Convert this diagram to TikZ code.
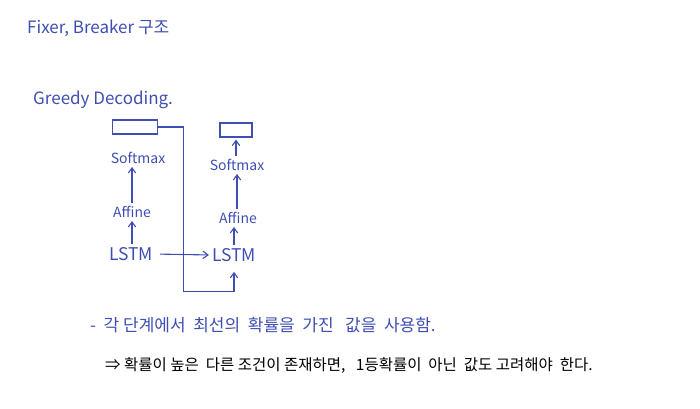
\documentclass[tikz,border=0pt]{standalone}
\usepackage{fontspec}
\setmainfont{Noto Sans CJK KR}
\usepackage{xcolor}
\usepackage{tikz}
\usetikzlibrary{arrows.meta,positioning,calc}
\definecolor{penblue}{RGB}{62,78,178}
\tikzset{
  >={Straight Barb[length=1.8mm,width=2.6mm]},
  note/.style={text=penblue, anchor=west, inner sep=0pt, font=\fontsize{17}{20}\selectfont},
  layer/.style={text=penblue, inner sep=1pt, font=\fontsize{14}{16}\selectfont},
  lstm/.style={layer, font=\fontsize{17.5}{20}\selectfont},
  probbox/.style={draw=penblue, line width=1.1pt, minimum width=45pt, minimum height=14pt, inner sep=0pt},
  flow/.style={->, draw=penblue, line width=1.1pt, shorten >=2pt, shorten <=2pt},
  wire/.style={draw=penblue, line width=1.1pt},
}

\begin{document}
\begin{tikzpicture}[x=1pt, y=-1pt]
  \useasboundingbox (0,0) rectangle (700,408);

  \node[note] (title) at (27,28) {Fixer, Breaker 구조};
  \node[note] (greedy) at (33,100) {Greedy Decoding.};

  % first step
  \node[lstm] (lstm1) at (131,254) {LSTM};
  \node[layer] (aff1) at (132,212) {Affine};
  \node[layer] (soft1) at (138,158) {Softmax};
  \node[probbox] (prob1) at (135,127) {};

  % second step
  \node[lstm] (lstm2) at (234,255) {LSTM};
  \node[layer] (aff2) at (238,218) {Affine};
  \node[layer] (soft2) at (237,165) {Softmax};
  \node[probbox, minimum width=32pt] (prob2) at (236,130) {};

  \draw[flow] (lstm1.north -| aff1) -- (aff1.south);
  \draw[flow] (aff1.north) -- (aff1.north |- soft1.south);
  \draw[flow] (lstm2.north) -- (lstm2.north |- aff2.south);
  \draw[flow] (aff2.north -| soft2) -- (soft2.south);
  \draw[flow] (soft2.north -| prob2) -- (prob2.south);

  \draw[flow, shorten <=6pt] (lstm1.east) -- (lstm2.west);
  \draw[wire, ->, shorten >=9pt] (prob1.east) -- ++(25,0) |- ([yshift=-29pt]lstm2.south) -- (lstm2.south);

  \node[note, align=left] (step) at (90,325) {-\ \ 각 단계에서 \ 최선의 \ 확률을 \ 가진 \ \ 값을 \ 사용함.};
  \node[note, text=black, font=\fontsize{15.5}{18}\selectfont] (then) at (105,365) {⇒ 확률이 높은 \ 다른 조건이 존재하면, \ \ 1등확률이 \ 아닌 \ 값도 고려해야 \ 한다.};
\end{tikzpicture}
\end{document}
